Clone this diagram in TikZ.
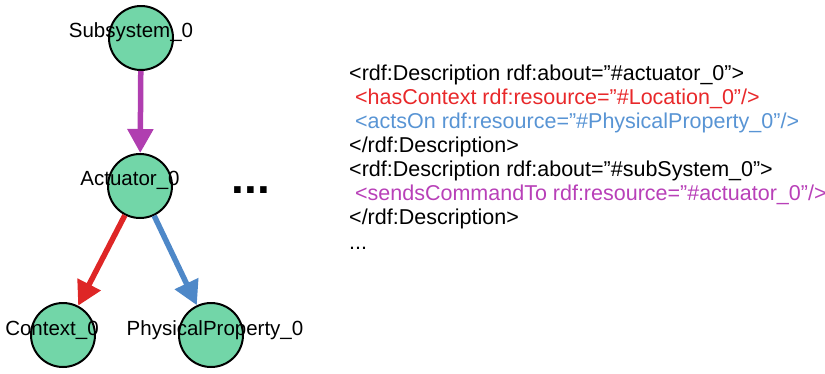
\documentclass[tikz,border=0pt]{standalone}
\usepackage{fontspec}
\setmainfont{Liberation Sans}
\usetikzlibrary{arrows.meta}

\definecolor{nodefill}{RGB}{114,214,168}
\definecolor{relred}{RGB}{222,38,38}
\definecolor{relblue}{RGB}{78,136,200}
\definecolor{relpurple}{RGB}{176,62,176}
\definecolor{txtred}{RGB}{232,40,42}
\definecolor{txtblue}{RGB}{88,148,212}
\definecolor{txtpurple}{RGB}{184,64,184}

\tikzset{
  entity/.style={circle, draw=black, line width=2pt, fill=nodefill,
                 minimum size=64pt, inner sep=0pt},
  entitylabel/.style={font=\fontsize{20.5}{22}\selectfont, inner sep=0pt, text=black},
  relation/.style={line width=5.5pt,
                   -{Triangle[length=24pt,width=25pt]}},
  rdfline/.style={anchor=base west, inner sep=0pt,
                  font=\fontsize{21.5}{23}\selectfont},
}

\begin{document}
\begin{tikzpicture}[x=1pt,y=-1pt]
  \useasboundingbox (0,0) rectangle (825,373);

  % graph of entities
  \node[entity] (sub) at (141,38)  {};
  \node[entity] (act) at (140,186) {};
  \node[entity] (ctx) at (63,335)  {};
  \node[entity] (pp)  at (211,335) {};

  \draw[relation, relpurple] (sub) -- (act);
  \draw[relation, relred]    (act) -- (ctx);
  \draw[relation, relblue]   (act) -- (pp);

  \node[entitylabel] (subl) at (131,32)  {Subsystem\_0};
  \node[entitylabel] (actl) at (130,180) {Actuator\_0};
  \node[entitylabel] (ctxl) at (52,330)  {Context\_0};
  \node[entitylabel] (ppl)  at (215,330) {PhysicalProperty\_0};

  \node[font=\fontsize{46}{46}\bfseries, inner sep=0pt, anchor=base] (more) at (251,193) {...};

  % RDF/XML serialisation
  \node[rdfline] (l1) at (349,80)  {<rdf:Description rdf:about=”\#actuator\_0”>};
  \node[rdfline, text=txtred] (l2) at (349,104) {\ <hasContext rdf:resource=”\#Location\_0”/>};
  \node[rdfline, text=txtblue] (l3) at (349,128) {\ <actsOn rdf:resource=”\#PhysicalProperty\_0”/>};
  \node[rdfline] (l4) at (349,152) {</rdf:Description>};
  \node[rdfline] (l5) at (349,176) {<rdf:Description rdf:about=”\#subSystem\_0”>};
  \node[rdfline, text=txtpurple] (l6) at (349,200) {\ <sendsCommandTo rdf:resource=”\#actuator\_0”/>};
  \node[rdfline] (l7) at (349,224) {</rdf:Description>};
  \node[rdfline] (l8) at (349,249) {...};
\end{tikzpicture}
\end{document}
